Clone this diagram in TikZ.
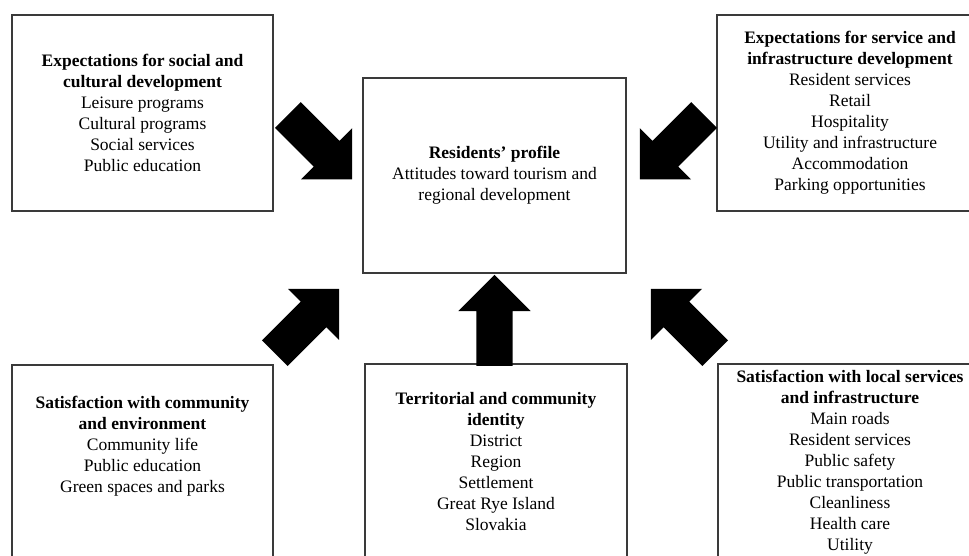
\documentclass[tikz,border=0pt]{standalone}
\usepackage{fontspec}
\setmainfont{Liberation Serif}
\usetikzlibrary{shapes.arrows,calc}
\definecolor{frame}{HTML}{3A3A3A}
\tikzset{
  factor/.style={draw=frame, line width=1.2pt, align=center, minimum height=196pt,
    font=\fontsize{17.5}{21}\selectfont},
  bigarrow/.style={single arrow, fill=black, anchor=tip, inner xsep=0pt, inner ysep=18pt,
    minimum height=91pt, single arrow head extend=18pt, single arrow tip angle=90}
}

\begin{document}
\begin{tikzpicture}[x=1pt,y=-1pt]
  \clip (0,0) rectangle (969,556);
  \fill[white] (0,0) rectangle (969,556);

  \node[factor, minimum width=263pt, minimum height=195pt] (profile) at (494.5,175.5)
    {\textbf{Residents’ profile}\\Attitudes toward tourism and\\regional development};

  \node[factor, minimum width=261pt] (social) at (142.5,113)
    {\textbf{Expectations for social and}\\\textbf{cultural development}\\Leisure programs\\
     Cultural programs\\Social services\\Public education};
  \node[factor, minimum width=266pt] (service) at (850,113)
    {\textbf{Expectations for service and}\\\textbf{infrastructure development}\\
     Resident services\\Retail\\Hospitality\\Utility and infrastructure\\Accommodation\\
     Parking opportunities};
  \node[factor, minimum width=261pt] (community) at (142.5,463)
    {\textbf{Satisfaction with community}\\\textbf{and environment}\\Community life\\
     Public education\\Green spaces and parks\\[17pt]};
  \node[factor, minimum width=262pt] (identity) at (496,462)
    {\textbf{Territorial and community}\\\textbf{identity}\\District\\Region\\Settlement\\
     Great Rye Island\\Slovakia};
  \node[factor, minimum width=264pt] (local) at (850,462)
    {\textbf{Satisfaction with local services}\\\textbf{and infrastructure}\\Main roads\\
     Resident services\\Public safety\\Public transportation\\Cleanliness\\Health care\\Utility};

  \node[bigarrow, rotate=-45] (social-in) at ($(profile.west)+(-10,4)$) {};
  \node[bigarrow, rotate=-135] (service-in) at ($(profile.east)+(13,4)$) {};
  \node[bigarrow, rotate=45] (community-in) at ($(profile.south west)+(-23,15)$) {};
  \node[bigarrow, rotate=90] (identity-in) at ($(profile.south)+(0,1)$) {};
  \node[bigarrow, rotate=135] (local-in) at ($(profile.south east)+(24,15)$) {};
\end{tikzpicture}
\end{document}
